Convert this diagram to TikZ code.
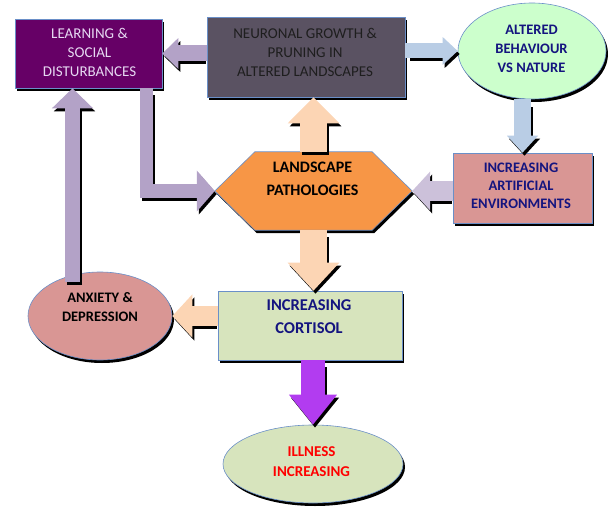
\documentclass[tikz,border=0pt]{standalone}
\usepackage{fontspec}
\setmainfont{Carlito}
\usetikzlibrary{shadows,arrows.meta,calc,shapes.geometric}
\definecolor{learncol}{HTML}{660066}
\definecolor{neurcol}{HTML}{5A5262}
\definecolor{altcol}{HTML}{CCFFCC}
\definecolor{rosecol}{HTML}{D99694}
\definecolor{hexcol}{HTML}{F79646}
\definecolor{sagecol}{HTML}{D7E4BD}
\definecolor{bordcol}{HTML}{6A8FC8}
\definecolor{lavA}{HTML}{B3A2C7}
\definecolor{lavB}{HTML}{CCC1DA}
\definecolor{lblue}{HTML}{B9CDE5}
\definecolor{peach}{HTML}{FCD5B4}
\definecolor{violet}{HTML}{B23CF0}
\definecolor{navy}{HTML}{14147F}
\definecolor{lighttxt}{HTML}{E6D8F2}
\definecolor{darktxt}{HTML}{1E1E1E}
\tikzset{
  shbox/.style={rectangle, draw=bordcol, line width=0.6pt, inner sep=0pt,
    drop shadow={opacity=1, fill=black, shadow xshift=2pt, shadow yshift=-3pt}},
  shell/.style={ellipse, draw=bordcol, line width=0.6pt, inner sep=0pt,
    drop shadow={opacity=1, fill=black, shadow xshift=2pt, shadow yshift=-3pt}},
  txt/.style={align=center, inner sep=0pt, font=\fontsize{15}{19}\selectfont},
  barrow/.style n args={4}{draw=#1, line width=#2, line join=miter, miter limit=20,
    -{Triangle[width=#3,length=#4]}}
}
\begin{document}
\begin{tikzpicture}[x=1pt,y=-1pt]
\useasboundingbox (0,0) rectangle (608,508);
% shapes
\node[shbox, fill=learncol, minimum width=147pt, minimum height=69pt] (learn) at (88.5,53.5) {};
\node[shbox, fill=neurcol, minimum width=198pt, minimum height=80pt] (neur) at (306,57) {};
\node[shell, fill=altcol, minimum width=148pt, minimum height=96pt] (alt) at (532,51) {};
\node[shbox, fill=rosecol, minimum width=139pt, minimum height=70pt] (art) at (522.5,188) {};
\node[inner sep=0pt, minimum width=197pt, minimum height=78pt] (hex) at (313.5,191) {};
\path[fill=hexcol, draw=bordcol, line width=0.6pt,
  drop shadow={opacity=1, fill=black, shadow xshift=2pt, shadow yshift=-3pt}]
  (hex.west) -- ($(hex.north west)+(40,0)$) -- ($(hex.north east)+(-40,0)$)
  -- (hex.east) -- ($(hex.south east)+(-40,0)$) -- ($(hex.south west)+(40,0)$) -- cycle;
\node[shell, fill=rosecol, minimum width=144pt, minimum height=88pt] (anx) at (100,316) {};
\node[shbox, fill=sagecol, minimum width=184pt, minimum height=69pt] (cort) at (310,325.5) {};
\node[shell, fill=sagecol, minimum width=180pt, minimum height=78pt] (ill) at (313,464) {};
% texts
\node[txt, text=lighttxt] (learnT) at (89.5,52) {LEARNING \&\\SOCIAL\\DISTURBANCES};
\node[txt, text=darktxt] (neurT) at (305,52.5) {NEURONAL GROWTH \&\\PRUNING IN\\ALTERED LANDSCAPES};
\node[txt, text=navy, font=\bfseries\fontsize{14.5}{19}\selectfont] (altT) at (531.5,49) {ALTERED\\BEHAVIOUR\\VS NATURE};
\node[txt, text=navy, font=\bfseries\fontsize{14.5}{18}\selectfont] (artT) at (521,186) {INCREASING\\ARTIFICIAL\\ENVIRONMENTS};
\node[txt, text=black, font=\bfseries\fontsize{16}{23}\selectfont] (hexT) at (312.5,178.5) {LANDSCAPE\\PATHOLOGIES};
\node[txt, text=black, font=\bfseries\fontsize{14.5}{19}\selectfont] (anxT) at (100,307.5) {ANXIETY \&\\DEPRESSION};
\node[txt, text=navy, font=\bfseries\fontsize{16.5}{23}\selectfont] (cortT) at (309,316.5) {INCREASING\\CORTISOL};
\node[txt, text=red, font=\bfseries\fontsize{15}{20}\selectfont] (illT) at (311.5,462) {ILLNESS\\INCREASING};
\coordinate (anxtop) at (72.5,282);
% arrow shadows
\begin{scope}[transform canvas={xshift=2pt,yshift=-3pt}]
\draw[barrow={black}{16pt}{30pt}{16pt}, shorten <=3pt] (neur.west|-learn.east) -- (learn.east);
\draw[barrow={black}{15pt}{27pt}{15pt}, shorten <=3pt] (neur.east|-alt.west) -- (alt.west);
\draw[barrow={black}{17pt}{30pt}{17pt}, shorten <=5pt] (art.north|-alt.south) -- (art.north);
\draw[barrow={black}{20pt}{38pt}{18pt}, shorten <=3pt] (art.west|-hex.east) -- (hex.east);
\draw[barrow={black}{27pt}{50pt}{26pt}] (hex.north) -- (hex.north|-neur.south);
\draw[barrow={black}{27pt}{50pt}{28pt}, shorten <=4pt] (hex.south) -- (hex.south|-cort.north);
\draw[barrow={black}{20pt}{42pt}{20pt}, shorten <=3pt] (cort.west|-anx.east) -- (anx.east);
\draw[barrow={black}{24pt}{46pt}{30pt}, shorten <=4pt] (ill.north|-cort.south) -- (ill.north);
\draw[barrow={black}{15pt}{40pt}{20pt}] (anxtop) -- (anxtop|-learn.south);
\draw[barrow={black}{13pt}{40pt}{18pt}, shorten <=4pt] ([xshift=58pt]learn.south) |- (hex.west);
\end{scope}
% block arrows
\draw[barrow={lavA}{16pt}{30pt}{16pt}] (neur.west|-learn.east) -- (learn.east);
\draw[barrow={lblue}{15pt}{27pt}{15pt}] (neur.east|-alt.west) -- (alt.west);
\draw[barrow={lblue}{17pt}{30pt}{17pt}] (art.north|-alt.south) -- (art.north);
\draw[barrow={lavB}{20pt}{38pt}{18pt}] (art.west|-hex.east) -- (hex.east);
\draw[barrow={peach}{27pt}{50pt}{26pt}] (hex.north) -- (hex.north|-neur.south);
\draw[barrow={peach}{27pt}{50pt}{28pt}] (hex.south) -- (hex.south|-cort.north);
\draw[barrow={peach}{20pt}{42pt}{20pt}] (cort.west|-anx.east) -- (anx.east);
\draw[barrow={violet}{24pt}{46pt}{30pt}] (ill.north|-cort.south) -- (ill.north);
\draw[barrow={lavA}{15pt}{40pt}{20pt}] (anxtop) -- (anxtop|-learn.south);
\draw[barrow={lavA}{13pt}{40pt}{18pt}] ([xshift=58pt]learn.south) |- (hex.west);
\end{tikzpicture}
\end{document}
